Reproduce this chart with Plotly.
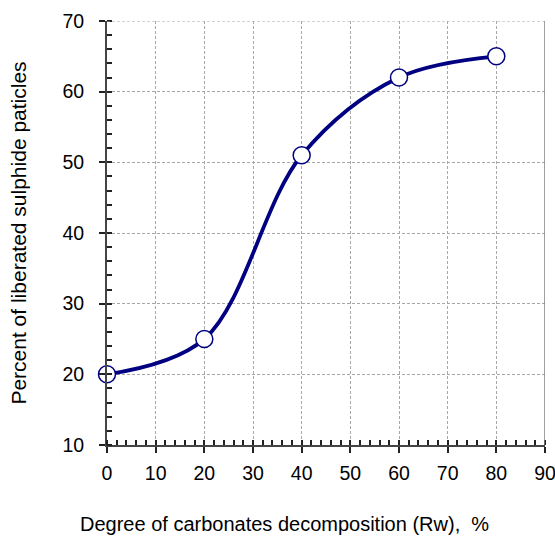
import plotly.graph_objects as go

# Degree of carbonate decomposition vs. liberated sulphide particles
decomposition = [0, 20, 40, 60, 80]
liberated = [20, 25, 51, 62, 65]

FONT = "Liberation Sans, Arial, sans-serif"

fig = go.Figure()
fig.add_trace(go.Scatter(
    x=decomposition, y=liberated,
    mode="lines+markers",
    line=dict(color="#000080", width=3.8, shape="spline", smoothing=1.0),
    marker=dict(size=17, color="white", line=dict(color="#000080", width=1.5)),
    cliponaxis=False,
    showlegend=False,
))

axis_common = dict(
    showgrid=True, gridcolor="#a8a8a8", griddash="3px,2px", gridwidth=1,
    zeroline=False, ticks="outside", ticklen=6, tickwidth=1.5, tickcolor="#222222",
    showline=True, linecolor="#444444", linewidth=2,
    tickfont=dict(family=FONT, size=19.5, color="black"),
    ticklabeloverflow="allow",
    automargin=False,
)

fig.update_xaxes(
    range=[0, 90], dtick=10, tick0=0,
    minor=dict(dtick=2, ticks="inside", ticklen=5, tickcolor="#222222", showgrid=False),
    ticklabelstandoff=4,
    **axis_common,
)
fig.update_yaxes(
    range=[10, 70], dtick=10, tick0=10,
    minor=dict(dtick=2, ticks="inside", ticklen=5, tickcolor="#222222", showgrid=False),
    ticklabelstandoff=11,
    title=dict(text="Percent of liberated sulphide paticles",
               font=dict(family=FONT, size=21, color="black"),
               standoff=30),
    **axis_common,
)

# x-axis caption, set slightly left of the plot centre
fig.add_annotation(
    text="Degree of carbonates decomposition (Rw),  %",
    xref="paper", yref="paper", x=0.406, y=-0.187,
    xanchor="center", yanchor="middle", showarrow=False,
    font=dict(family=FONT, size=20, color="black"),
)

# frame: dashed top edge and grey right edge of the plotting area
fig.add_shape(type="line", xref="paper", yref="y", x0=0, x1=1, y0=70, y1=70,
              line=dict(color="#a8a8a8", width=1, dash="3px,2px"))
fig.add_shape(type="line", xref="x", yref="paper", x0=90, x1=90, y0=0, y1=1,
              line=dict(color="#808080", width=1.5))

fig.update_layout(
    width=555, height=537,
    margin=dict(l=107, r=10, t=21, b=92),
    plot_bgcolor="white", paper_bgcolor="white",
)

fig.write_html("out.html")
